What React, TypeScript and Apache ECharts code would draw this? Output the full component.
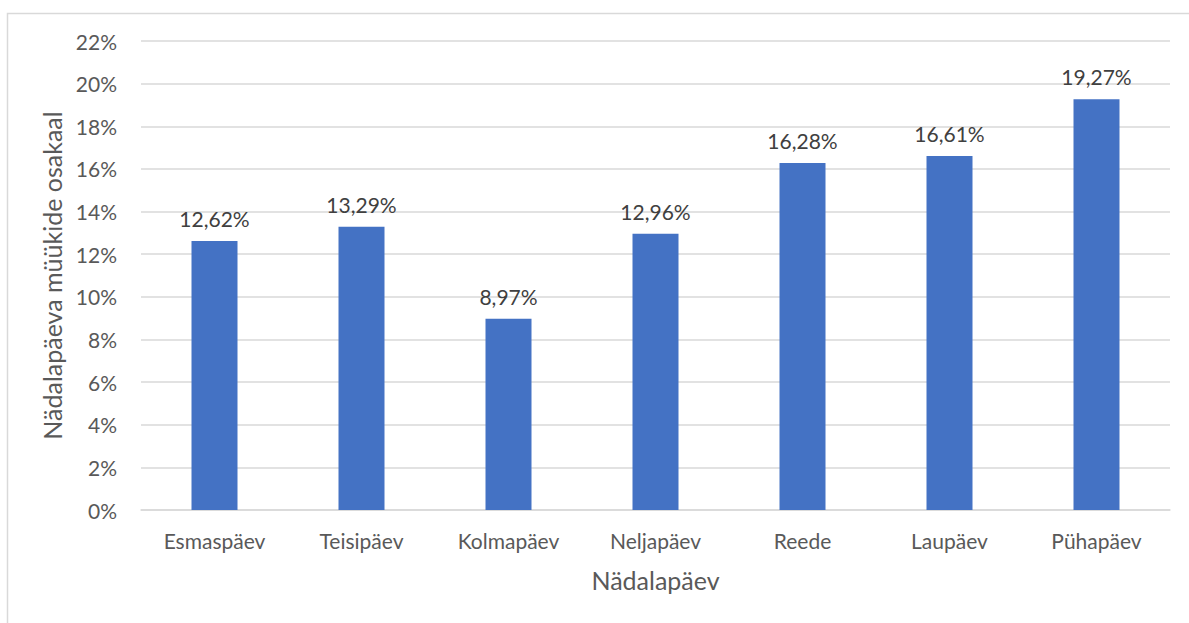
import React, { useEffect, useRef } from "react";
import * as echarts from "echarts";

// Weekday share of sales (percent)
const weekdays = ["Esmaspäev", "Teisipäev", "Kolmapäev", "Neljapäev", "Reede", "Laupäev", "Pühapäev"];
const salesShare = [12.62, 13.29, 8.97, 12.96, 16.28, 16.61, 19.27];
const yTickMax = 22;
const yTickStep = 2;
const xTitle = "Nädalapäev";
const yTitle = "Nädalapäeva müükide osakaal";

const FONT = "Lato, 'Noto Sans', sans-serif";

export default function App() {
  const ref = useRef<HTMLDivElement>(null);

  useEffect(() => {
    if (!ref.current) return;
    const chart = echarts.init(ref.current, undefined, { renderer: "svg" });
    chart.setOption({
      animation: false,
      backgroundColor: "#ffffff",
      textStyle: { fontFamily: FONT },
      graphic: [
        {
          type: "rect",
          left: 5,
          top: 11,
          shape: { x: 0, y: 0, width: 1300, height: 700 },
          style: { fill: "none", stroke: "#d9d9d9", lineWidth: 1.5 },
          silent: true,
          z: -1,
        },
      ],
      grid: { left: 141, right: 19, top: 41, bottom: 113, containLabel: false, outerBoundsMode: "none" },
      xAxis: {
        type: "category",
        data: weekdays,
        name: xTitle,
        nameLocation: "middle",
        nameGap: 57,
        nameTextStyle: { fontSize: 25, color: "#595959", fontFamily: FONT },
        axisLine: { show: true, lineStyle: { color: "#d9d9d9", width: 1.5 } },
        axisTick: { show: false },
        axisLabel: { fontSize: 21, color: "#595959", margin: 20, fontFamily: FONT },
      },
      yAxis: {
        type: "value",
        min: 0,
        max: yTickMax,
        interval: yTickStep,
        name: yTitle,
        nameLocation: "middle",
        nameGap: 73,
        nameTextStyle: { fontSize: 25, color: "#595959", fontFamily: FONT },
        axisLine: { show: false },
        axisTick: { show: false },
        axisLabel: { formatter: "{value}%", fontSize: 21, color: "#595959", margin: 24, fontFamily: FONT },
        splitLine: { lineStyle: { color: "#d9d9d9", width: 1.5 } },
      },
      series: [
        {
          type: "bar",
          data: salesShare,
          barWidth: 46,
          itemStyle: { color: "#4472C4" },
          label: {
            show: true,
            position: "top",
            distance: 12,
            fontSize: 21,
            color: "#404040",
            fontFamily: FONT,
            formatter: (p: any) => p.value.toFixed(2).replace(".", ",") + "%",
          },
        },
      ],
    });
    return () => chart.dispose();
  }, []);

  return (
    <div
      ref={ref}
      style={{ position: "fixed", left: 0, top: 0, width: 1189, height: 623 }}
    />
  );
}
